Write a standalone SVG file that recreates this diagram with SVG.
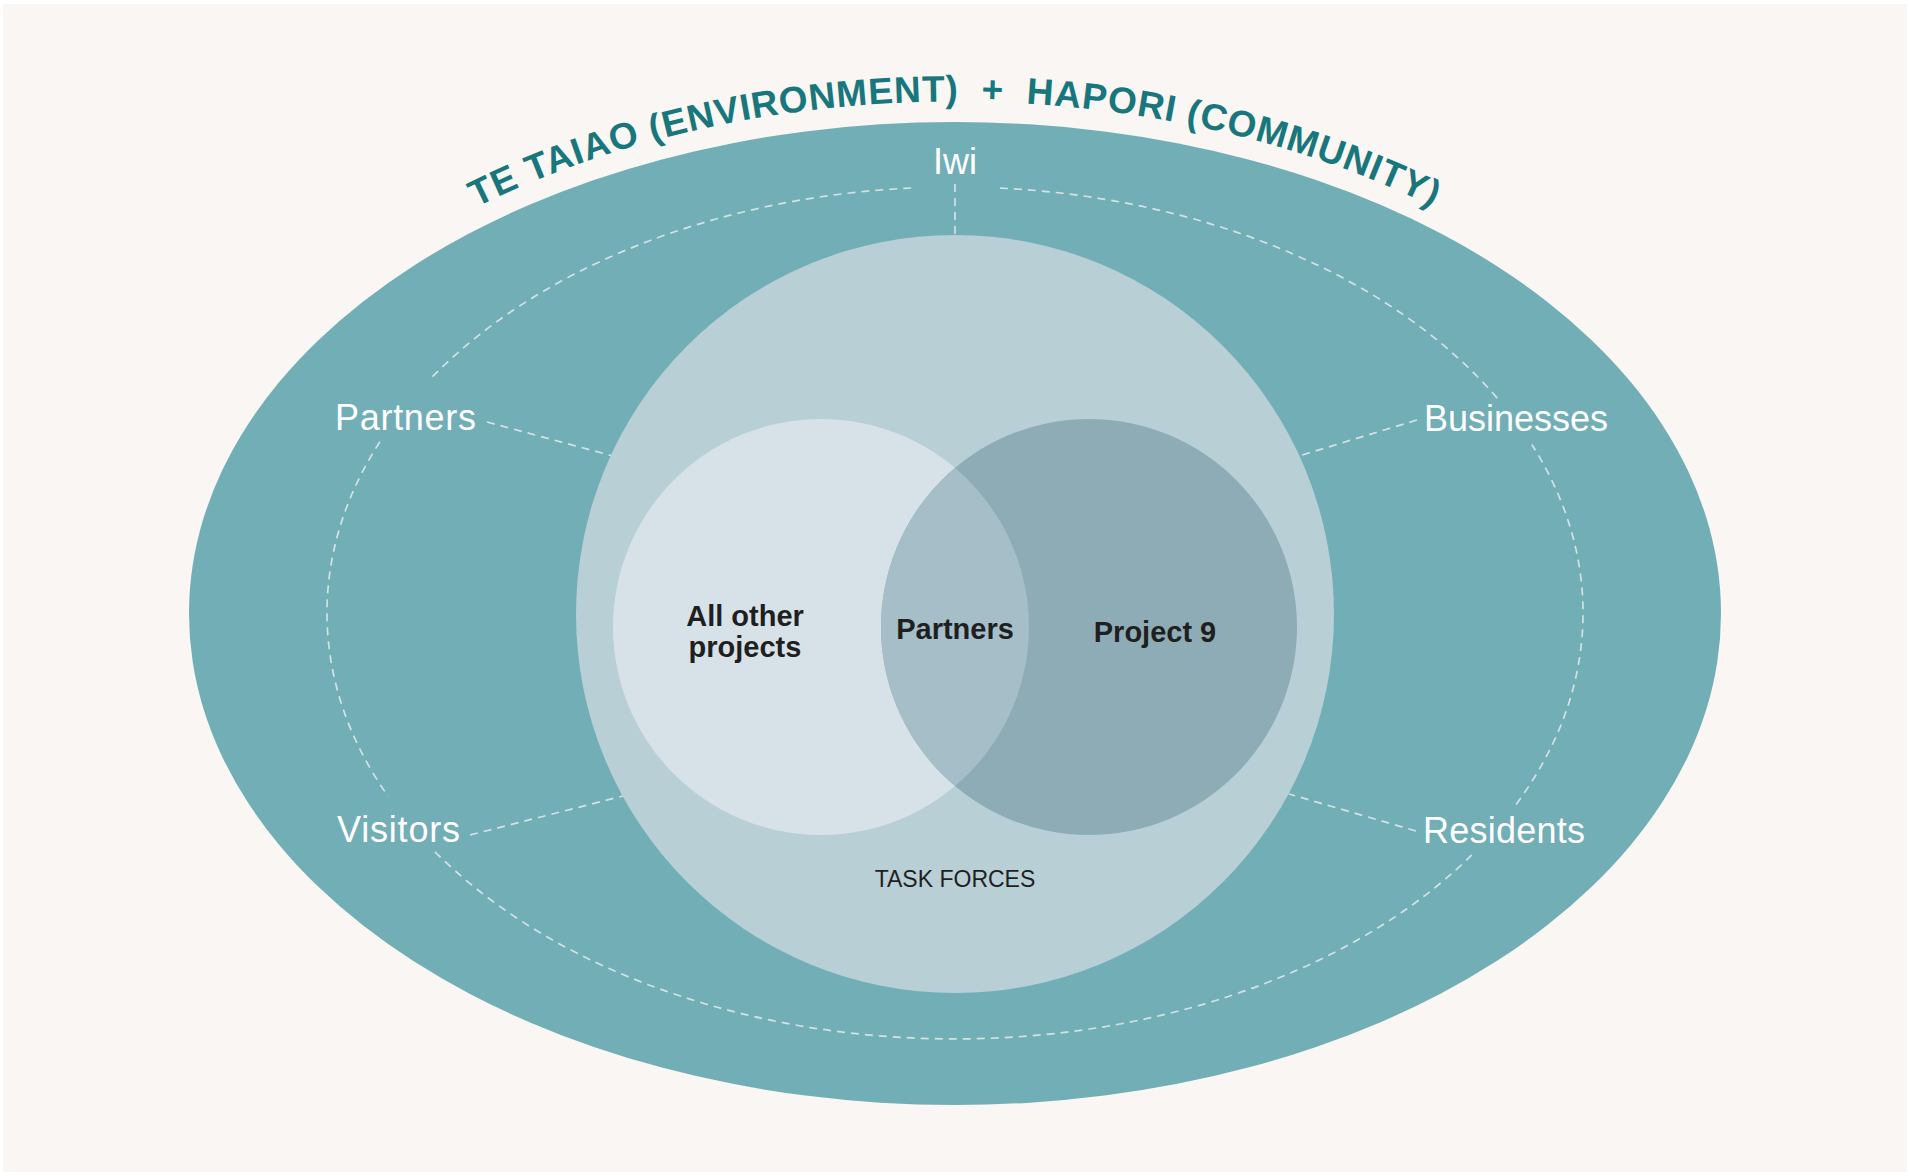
<svg xmlns="http://www.w3.org/2000/svg" width="1910" height="1176" viewBox="0 0 1910 1176">
  <defs>
    <style>
      .label { font-family: "Liberation Sans", Arial, sans-serif; font-size: 36px; fill: #ffffff; }
      .inner { font-family: "Liberation Sans", Arial, sans-serif; font-size: 29px; font-weight: bold; fill: #1f1f1f; text-anchor: middle; }
      .small { font-family: "Liberation Sans", Arial, sans-serif; font-size: 23px; fill: #1f1f1f; text-anchor: middle; }
      .title { font-family: "Liberation Sans", Arial, sans-serif; font-size: 37px; font-weight: bold; fill: #18767d; letter-spacing: 0.9px; }
      .dash { fill: none; stroke: #d3e2e5; stroke-width: 1.7; stroke-dasharray: 8 6; }
    </style>
    <path id="titleArc" d="M 169 613.5 A 786 512 0 0 1 1741 613.5"/>
    <clipPath id="leftClip">
      <circle cx="821" cy="627" r="208"/>
    </clipPath>
  </defs>

  <rect x="0" y="0" width="1910" height="1176" fill="#ffffff"/>
  <rect x="3" y="4" width="1904" height="1168" fill="#f9f6f3"/>

  <g id="environment">
    <ellipse cx="955" cy="613.5" rx="766" ry="491.5" fill="#72aeb6"/>
  </g>

  <g id="title">
    <text class="title" xml:space="preserve"><textPath href="#titleArc" startOffset="50%" text-anchor="middle">TE TAIAO (ENVIRONMENT)  +  HAPORI (COMMUNITY)</textPath></text>
  </g>

  <g id="connectors">
    <path class="dash" d="M 911.2 188 A 628 426 0 0 0 430.1 379.1"/>
    <path class="dash" d="M 379.9 441.8 A 628 426 0 0 0 388.2 796.4"/>
    <path class="dash" d="M 435 851.8 A 628 426 0 0 0 1475 851.8"/>
    <path class="dash" d="M 1516.1 804.4 A 628 426 0 0 0 1531.8 444.5"/>
    <path class="dash" d="M 1497.2 398.1 A 628 426 0 0 0 998.8 188"/>
    <line class="dash" x1="955" y1="184" x2="955" y2="236"/>
    <line class="dash" x1="487" y1="422" x2="613" y2="456"/>
    <line class="dash" x1="470" y1="835" x2="623" y2="796"/>
    <line class="dash" x1="1417" y1="420" x2="1299" y2="456"/>
    <line class="dash" x1="1416" y1="831" x2="1289" y2="794"/>
  </g>

  <g id="task-forces">
    <circle cx="955" cy="614" r="379" fill="#b9cfd6"/>
    <text class="small" x="955" y="887">TASK FORCES</text>
  </g>

  <g id="all-other-projects">
    <circle cx="821" cy="627" r="208" fill="#d7e2e8"/>
    <text class="inner" x="745" y="626">All other</text>
    <text class="inner" x="745" y="657">projects</text>
  </g>

  <g id="project-9">
    <circle cx="1089" cy="627" r="208" fill="#8eacb6"/>
    <text class="inner" x="1155" y="642">Project 9</text>
  </g>

  <g id="partners-overlap">
    <circle cx="1089" cy="627" r="208" fill="#a5bec7" clip-path="url(#leftClip)"/>
    <text class="inner" x="955" y="639">Partners</text>
  </g>

  <g id="iwi"><text class="label" x="955" y="174" text-anchor="middle">Iwi</text></g>
  <g id="partners"><text class="label" x="335" y="430" textLength="141" lengthAdjust="spacing">Partners</text></g>
  <g id="businesses"><text class="label" x="1424" y="431">Businesses</text></g>
  <g id="visitors"><text class="label" x="337" y="842" textLength="123" lengthAdjust="spacing">Visitors</text></g>
  <g id="residents"><text class="label" x="1423" y="843" textLength="162" lengthAdjust="spacing">Residents</text></g>
</svg>
